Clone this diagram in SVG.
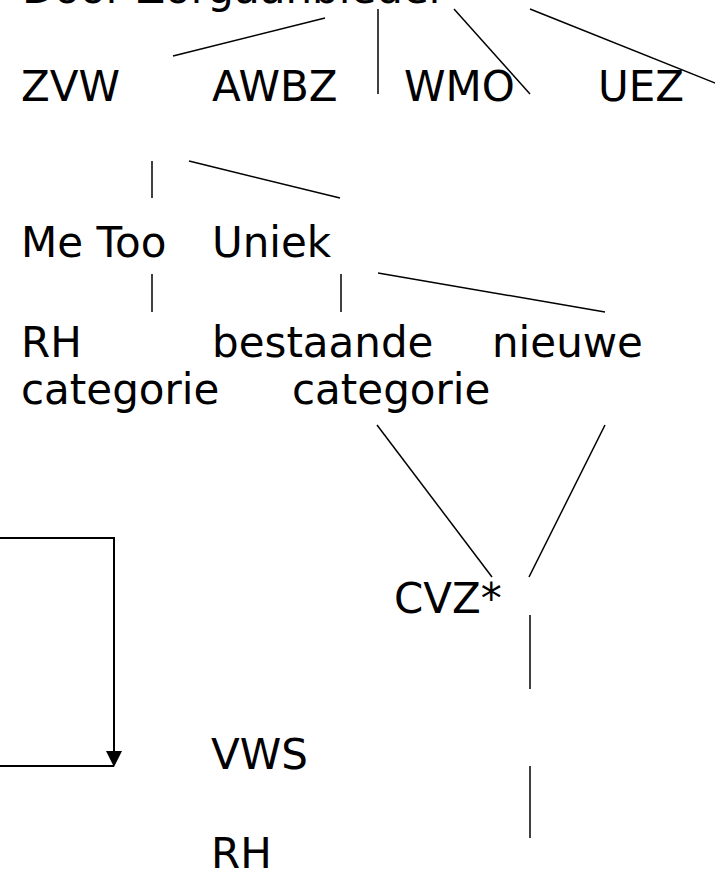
<svg xmlns="http://www.w3.org/2000/svg" width="715" height="874" viewBox="0 0 715 874">
<style>
text{font-family:"DejaVu Sans","Verdana",sans-serif;font-size:42px;fill:#000}
.c{stroke:#000;stroke-width:1.5;fill:none}
.a{stroke:#000;stroke-width:2;fill:none}
</style>
<defs>
<marker id="ah" markerUnits="userSpaceOnUse" markerWidth="16" markerHeight="16" refX="0" refY="8" orient="auto" viewBox="0 0 16 16">
<path d="M0,0 L16,8 L0,16 Z" fill="#000"/>
</marker>
</defs>
<rect width="715" height="874" fill="#fff"/>
<g id="connectors">
<line class="c" x1="173" y1="56" x2="325" y2="18"/>
<line class="c" x1="378" y1="9" x2="378" y2="94"/>
<line class="c" x1="454" y1="9" x2="530" y2="94"/>
<line class="c" x1="530" y1="9" x2="725" y2="87"/>
<line class="c" x1="152" y1="161" x2="152" y2="198"/>
<line class="c" x1="189" y1="161" x2="340" y2="198"/>
<line class="c" x1="152" y1="274" x2="152" y2="312"/>
<line class="c" x1="341" y1="274" x2="341" y2="312"/>
<line class="c" x1="378" y1="273" x2="605" y2="312"/>
<line class="c" x1="377" y1="425" x2="492" y2="577"/>
<line class="c" x1="605" y1="425" x2="529" y2="577"/>
<line class="c" x1="530" y1="615" x2="530" y2="689"/>
<line class="c" x1="530" y1="766" x2="530" y2="838"/>
<polyline class="a" points="0,538 114,538 114,751" marker-end="url(#ah)"/>
<line class="a" x1="0" y1="766" x2="114" y2="766"/>
</g>
<g id="n-door"><text x="22" y="3">Door Zorgaanbieder</text></g>
<g id="n-zvw"><text x="21" y="101">ZVW</text></g>
<g id="n-awbz"><text x="212" y="101">AWBZ</text></g>
<g id="n-wmo"><text x="404" y="101">WMO</text></g>
<g id="n-uez"><text x="598" y="101">UEZ</text></g>
<g id="n-metoo"><text x="21" y="257">Me Too</text></g>
<g id="n-uniek"><text x="212" y="257">Uniek</text></g>
<g id="n-rhcat"><text x="21" y="357">RH</text><text x="21" y="404">categorie</text></g>
<g id="n-bestaande"><text x="212" y="357">bestaande</text><text x="292" y="404">categorie</text></g>
<g id="n-nieuwe"><text x="492" y="357">nieuwe</text></g>
<g id="n-cvz"><text x="394" y="613">CVZ*</text></g>
<g id="n-vws"><text x="211" y="769">VWS</text></g>
<g id="n-rh"><text x="211" y="868">RH</text></g>
</svg>
